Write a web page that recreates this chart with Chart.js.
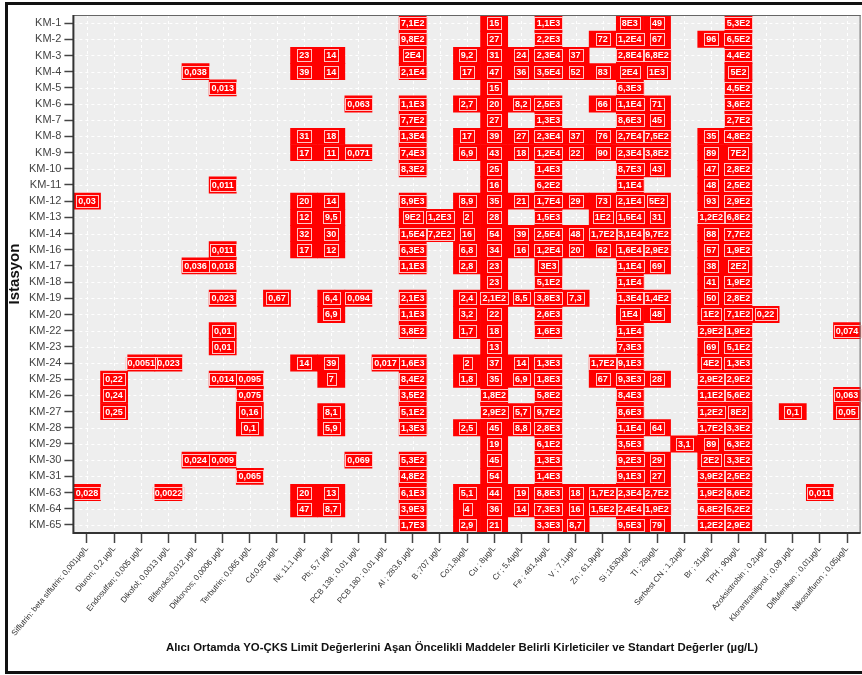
<!DOCTYPE html>
<html>
<head>
<meta charset="utf-8">
<script src="https://cdn.jsdelivr.net/npm/chart.js@4"></script>
<style>
  html, body { margin: 0; padding: 0; background: #fff; overflow: hidden; }
  #wrap { position: relative; width: 862px; height: 675px; overflow: hidden; }
  #c { position: absolute; left: 0; top: 0; }
  #frame {
    position: absolute; left: 5px; top: 2px; width: 880px; height: 672px;
    border-left: 3px solid #111; border-top: 3px solid #111; border-bottom: 3px solid #111;
    box-sizing: border-box; pointer-events: none;
  }
</style>
</head>
<body>
<div id="wrap">
  <canvas id="c" width="862" height="675"></canvas>
  <div id="frame"></div>
</div>
<script>
const _ = null;

// Sampling stations (rows, top to bottom)
const stations = [
  'KM-1', 'KM-2', 'KM-3', 'KM-4', 'KM-5', 'KM-6', 'KM-7', 'KM-8',
  'KM-9', 'KM-10', 'KM-11', 'KM-12', 'KM-13', 'KM-14', 'KM-16', 'KM-17',
  'KM-18', 'KM-19', 'KM-20', 'KM-22', 'KM-23', 'KM-24', 'KM-25', 'KM-26',
  'KM-27', 'KM-28', 'KM-29', 'KM-30', 'KM-31', 'KM-63', 'KM-64', 'KM-65'
];

// Parameters with their limit values (x axis tick labels)
const parameters = [
  'Siflutrin: beta siflutrin; 0,001µg/L', 'Diuron; 0,2 µg/L', 'Endosulfan; 0,005 µg/L',
  'Dikofol; 0,0013 µg/L', 'Bifenoks;0,012 µg/L', 'Diklorvos; 0,0006 µg/L',
  'Terbutrin; 0,065 µg/L', 'Cd;0,55 µg/L', 'Ni; 11,1 µg/L', 'Pb; 5,7 µg/L',
  'PCB 138 ; 0,01 µg/L', 'PCB 180 ; 0,01 µg/L', 'Al ; 283,6 µg/L', 'B ;707 µg/L',
  'Co;1,8µg/L', 'Cu ; 8µg/L', 'Cr ; 5,4µg/L', 'Fe ; 481,4µg/L', 'V ; 7,1µg/L',
  'Zn ; 61,9µg/L', 'Si ;1630µg/L', 'Tl ; 28µg/L', 'Serbest CN ; 1,2µg/L',
  'Br ; 31µg/L', 'TPH ; 90µg/L', 'Azoksistrobin ; 0,2µg/L',
  'Klorantraniliprol ; 0,09 µg/L', 'Diflufenikan ; 0,01µg/L', 'Nikosulfuron ; 0,05µg/L'
];

// Measured concentrations above the limit (µg/L), one entry per station; null = not exceeded
const siflutrin = [_,_,_,_,_,_,_,_,  _,_,_,0.03,_,_,_,_,  _,_,_,_,_,_,_,_,  _,_,_,_,_,0.028,_,_];
const diuron    = [_,_,_,_,_,_,_,_,  _,_,_,_,_,_,_,_,  _,_,_,_,_,_,0.22,0.24,  0.25,_,_,_,_,_,_,_];
const endosulfan= [_,_,_,_,_,_,_,_,  _,_,_,_,_,_,_,_,  _,_,_,_,_,0.0051,_,_,  _,_,_,_,_,_,_,_];
const dikofol   = [_,_,_,_,_,_,_,_,  _,_,_,_,_,_,_,_,  _,_,_,_,_,0.023,_,_,  _,_,_,_,_,0.0022,_,_];
const bifenoks  = [_,_,_,0.038,_,_,_,_,  _,_,_,_,_,_,_,0.036,  _,_,_,_,_,_,_,_,  _,_,_,0.024,_,_,_,_];
const diklorvos = [_,_,_,_,0.013,_,_,_,  _,_,0.011,_,_,_,0.011,0.018,  _,0.023,_,0.01,0.01,_,0.014,_,  _,_,_,0.009,_,_,_,_];
const terbutrin = [_,_,_,_,_,_,_,_,  _,_,_,_,_,_,_,_,  _,_,_,_,_,_,0.095,0.075,  0.16,0.1,_,_,0.065,_,_,_];
const cd        = [_,_,_,_,_,_,_,_,  _,_,_,_,_,_,_,_,  _,0.67,_,_,_,_,_,_,  _,_,_,_,_,_,_,_];
const ni        = [_,_,23,39,_,_,_,31,  17,_,_,20,12,32,17,_,  _,_,_,_,_,14,_,_,  _,_,_,_,_,20,47,_];
const pb        = [_,_,14,14,_,_,_,18,  11,_,_,14,9.5,30,12,_,  _,6.4,6.9,_,_,39,7,_,  8.1,5.9,_,_,_,13,8.7,_];
const pcb138    = [_,_,_,_,_,0.063,_,_,  0.071,_,_,_,_,_,_,_,  _,0.094,_,_,_,_,_,_,  _,_,_,0.069,_,_,_,_];
const pcb180    = [_,_,_,_,_,_,_,_,  _,_,_,_,_,_,_,_,  _,_,_,_,_,0.017,_,_,  _,_,_,_,_,_,_,_];
const al        = [710,980,20000,21000,_,1100,770,13000,  7400,830,_,8900,900,15000,6300,1100,  _,2100,1100,380,_,1600,840,350,  510,1300,_,530,480,6100,3900,1700];
const b         = [_,_,_,_,_,_,_,_,  _,_,_,_,1200,720,_,_,  _,_,_,_,_,_,_,_,  _,_,_,_,_,_,_,_];
const co        = [_,_,9.2,17,_,2.7,_,17,  6.9,_,_,8.9,2,16,6.8,2.8,  _,2.4,3.2,1.7,_,2,1.8,_,  _,2.5,_,_,_,5.1,4,2.9];
const cu        = [15,27,31,47,15,20,27,39,  43,25,16,35,28,54,34,23,  23,210,22,18,13,37,35,180,  290,45,19,45,54,44,36,21];
const cr        = [_,_,24,36,_,8.2,_,27,  18,_,_,21,_,39,16,_,  _,8.5,_,_,_,14,6.9,_,  5.7,8.8,_,_,_,19,14,_];
const fe        = [1100,2200,23000,35000,_,2500,1300,23000,  12000,1400,620,17000,1500,25000,12000,3000,  510,3800,2600,1600,_,1300,1800,580,  970,2800,610,1300,1400,8800,7300,3300];
const v         = [_,_,37,52,_,_,_,37,  22,_,_,29,_,48,20,_,  _,7.3,_,_,_,_,_,_,  _,_,_,_,_,18,16,8.7];
const zn        = [_,72,_,83,_,66,_,76,  90,_,_,73,100,170,62,_,  _,_,_,_,_,170,67,_,  _,_,_,_,_,170,150,_];
const si        = [8000,12000,28000,20000,6300,11000,8600,27000,  23000,8700,11000,21000,15000,31000,16000,11000,  11000,13000,10000,11000,7300,9100,9300,8400,  8600,11000,3500,9200,9100,23000,24000,9500];
const tl        = [49,67,680,1000,_,71,45,750,  380,43,_,500,31,970,290,69,  _,140,48,_,_,_,28,_,  _,64,_,29,27,270,190,79];
const serbestCN = [_,_,_,_,_,_,_,_,  _,_,_,_,_,_,_,_,  _,_,_,_,_,_,_,_,  _,_,3.1,_,_,_,_,_];
const br        = [_,96,_,_,_,_,_,35,  89,47,48,93,120,88,57,38,  41,50,100,290,69,400,290,110,  120,170,89,200,390,190,680,120];
const tph       = [530,650,440,500,450,360,270,480,  700,280,250,290,680,770,190,200,  190,280,710,190,510,1300,290,560,  800,330,630,330,250,860,520,290];
const azoksistrobin     = [_,_,_,_,_,_,_,_,  _,_,_,_,_,_,_,_,  _,_,0.22,_,_,_,_,_,  _,_,_,_,_,_,_,_];
const klorantraniliprol = [_,_,_,_,_,_,_,_,  _,_,_,_,_,_,_,_,  _,_,_,_,_,_,_,_,  0.1,_,_,_,_,_,_,_];
const diflufenikan      = [_,_,_,_,_,_,_,_,  _,_,_,_,_,_,_,_,  _,_,_,_,_,_,_,_,  _,_,_,_,_,0.011,_,_];
const nikosulfuron      = [_,_,_,_,_,_,_,_,  _,_,_,_,_,_,_,_,  _,_,_,0.074,_,_,_,0.063,  0.05,_,_,_,_,_,_,_];

const columns = [
  siflutrin, diuron, endosulfan, dikofol, bifenoks, diklorvos, terbutrin, cd, ni, pb,
  pcb138, pcb180, al, b, co, cu, cr, fe, v, zn, si, tl, serbestCN, br, tph,
  azoksistrobin, klorantraniliprol, diflufenikan, nikosulfuron
];

// Turkish-style number text: decimal comma, values >= 100 as mantissa E exponent
function formatValue(val) {
  if (val >= 100) {
    let e = Math.floor(Math.log10(val));
    if (val / Math.pow(10, e) >= 10) e++;
    if (val / Math.pow(10, e) < 1) e--;
    const m = +(val / Math.pow(10, e)).toFixed(1);
    return String(m).replace('.', ',') + 'E' + e;
  }
  return String(val).replace('.', ',');
}

const CELL_RED = '#ff0000';
const FONT = 'Arial, "Liberation Sans", sans-serif';

// One floating-bar dataset per station row; each exceeded parameter fills its cell
const datasets = stations.map((name, r) => ({
  label: name,
  data: columns.map(col => (col[r] == null ? null : [r, r + 1])),
  backgroundColor: CELL_RED,
  borderWidth: 0,
  grouped: false,
  barPercentage: 1,
  categoryPercentage: 1
}));

const plotBackground = {
  id: 'plotBackground',
  beforeDatasetsDraw(chart) {
    const { ctx, chartArea: a, scales } = chart;
    ctx.save();
    ctx.fillStyle = '#eeeeee';
    ctx.fillRect(a.left, a.top, a.right - a.left, a.bottom - a.top);
    ctx.strokeStyle = 'rgba(255,255,255,0.95)';
    ctx.lineWidth = 1;
    ctx.setLineDash([3, 3]);
    ctx.beginPath();
    parameters.forEach((p, j) => {
      const x = Math.round(scales.x.getPixelForValue(j)) + 0.5;
      ctx.moveTo(x, a.top); ctx.lineTo(x, a.bottom);
    });
    stations.forEach((s, r) => {
      const y = Math.round(scales.y.getPixelForValue(r + 0.5)) + 0.5;
      ctx.moveTo(a.left, y); ctx.lineTo(a.right, y);
    });
    ctx.stroke();
    ctx.restore();
  }
};

const cellLabels = {
  id: 'cellLabels',
  afterDatasetsDraw(chart) {
    const { ctx } = chart;
    ctx.save();
    ctx.font = 'bold 9px ' + FONT;
    ctx.textAlign = 'center';
    ctx.textBaseline = 'middle';
    stations.forEach((s, r) => {
      const meta = chart.getDatasetMeta(r);
      columns.forEach((col, j) => {
        if (col[r] == null) return;
        const el = meta.data[j];
        const txt = formatValue(col[r]);
        const cx = el.x;
        const cy = (el.y + el.base) / 2;
        const w = Math.round(ctx.measureText(txt).width) + 4;
        const h = 12;
        ctx.strokeStyle = 'rgba(255,205,205,0.95)';
        ctx.lineWidth = 1;
        ctx.strokeRect(Math.round(cx - w / 2) + 0.5, Math.round(cy - h / 2) + 0.5, w, h);
        ctx.fillStyle = '#ffffff';
        ctx.fillText(txt, cx, cy + 0.5);
      });
    });
    ctx.restore();
  }
};

const frameAndTitles = {
  id: 'frameAndTitles',
  afterDraw(chart) {
    const { ctx, chartArea: a } = chart;
    ctx.save();
    // plot frame
    ctx.strokeStyle = '#666';
    ctx.lineWidth = 1;
    ctx.beginPath();
    ctx.moveTo(a.left, a.top + 0.5); ctx.lineTo(a.right, a.top + 0.5);
    ctx.moveTo(a.right - 0.5, a.top); ctx.lineTo(a.right - 0.5, a.bottom);
    ctx.stroke();
    ctx.strokeStyle = '#333';
    ctx.lineWidth = 2;
    ctx.beginPath();
    ctx.moveTo(a.left, a.top); ctx.lineTo(a.left, a.bottom + 1);
    ctx.moveTo(a.left - 1, a.bottom); ctx.lineTo(a.right, a.bottom);
    ctx.stroke();
    // axis titles
    ctx.fillStyle = '#111';
    ctx.textAlign = 'center';
    ctx.textBaseline = 'middle';
    ctx.font = 'bold 11.4px ' + FONT;
    ctx.fillText('Alıcı Ortamda YO-ÇKS Limit Değerlerini Aşan Öncelikli Maddeler Belirli Kirleticiler ve Standart Değerler (µg/L)', 462, 648);
    ctx.translate(15, (a.top + a.bottom) / 2);
    ctx.rotate(-Math.PI / 2);
    ctx.font = 'bold 15px ' + FONT;
    ctx.fillText('Istasyon', 0, 0);
    ctx.restore();
  }
};

new Chart(document.getElementById('c'), {
  type: 'bar',
  data: { labels: parameters, datasets },
  options: {
    responsive: false,
    animation: false,
    devicePixelRatio: 1,
    layout: { padding: { top: 15, right: 1.4, left: 0, bottom: 0 } },
    plugins: { legend: { display: false }, tooltip: { enabled: false } },
    scales: {
      x: {
        type: 'category',
        offset: true,
        grid: { offset: false, drawOnChartArea: false, drawTicks: true, tickLength: 10, tickColor: '#444', tickWidth: 1.5 },
        border: { display: false },
        ticks: { autoSkip: false, minRotation: 50, maxRotation: 50, padding: 1, color: '#333', font: { family: FONT, size: 8 } },
        afterFit(scale) { scale.height = 142; scale.paddingLeft = 0; scale.paddingRight = 0; }
      },
      y: {
        type: 'linear',
        min: 0,
        max: stations.length,
        reverse: true,
        afterBuildTicks(scale) { scale.ticks = stations.map((s, i) => ({ value: i + 0.5 })); },
        grid: { drawOnChartArea: false, drawTicks: true, tickLength: 9, tickColor: '#444', tickWidth: 1.5 },
        border: { display: false },
        ticks: { autoSkip: false, padding: 3, color: '#444', font: { family: FONT, size: 11 }, callback: (val, i) => stations[i] },
        afterFit(scale) { scale.width = 73.4; }
      }
    }
  },
  plugins: [plotBackground, cellLabels, frameAndTitles]
});
</script>
</body>
</html>
